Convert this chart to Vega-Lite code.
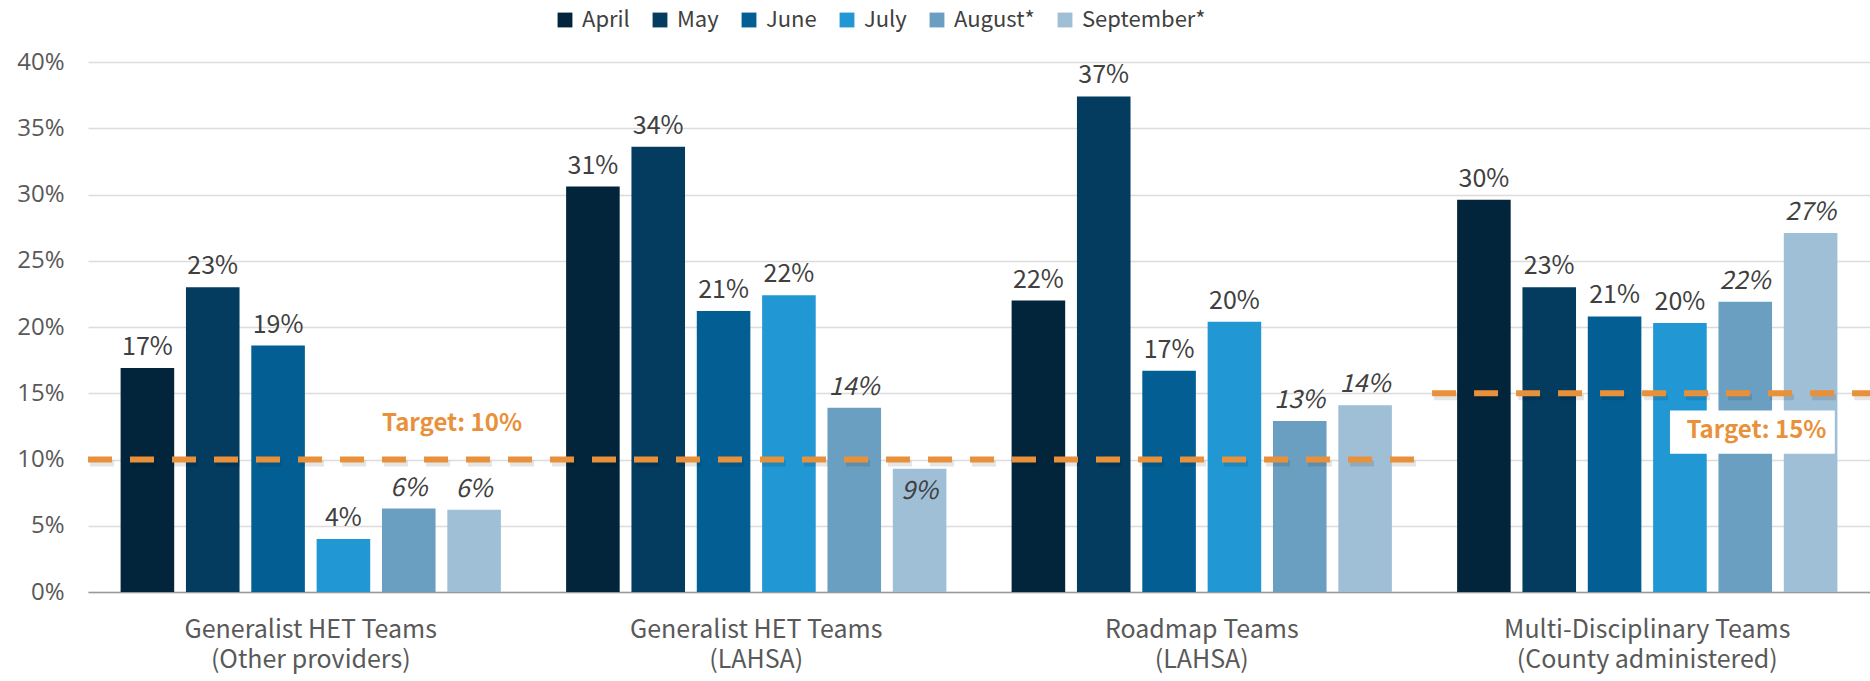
{
  "$schema": "https://vega.github.io/schema/vega-lite/v6.json",
  "width": 1782,
  "height": 530,
  "autosize": {"type": "none"},
  "padding": {"left": 88, "top": 62, "right": 0, "bottom": 89},
  "background": "white",
  "config": {"view": {"stroke": null}},
  "datasets": {
    "bars": [
      {"group": "Generalist HET Teams|(Other providers)", "month": "April", "value": 0.169},
      {"group": "Generalist HET Teams|(Other providers)", "month": "May", "value": 0.230},
      {"group": "Generalist HET Teams|(Other providers)", "month": "June", "value": 0.186},
      {"group": "Generalist HET Teams|(Other providers)", "month": "July", "value": 0.040},
      {"group": "Generalist HET Teams|(Other providers)", "month": "August*", "value": 0.063},
      {"group": "Generalist HET Teams|(Other providers)", "month": "September*", "value": 0.062},
      {"group": "Generalist HET Teams|(LAHSA)", "month": "April", "value": 0.306},
      {"group": "Generalist HET Teams|(LAHSA)", "month": "May", "value": 0.336},
      {"group": "Generalist HET Teams|(LAHSA)", "month": "June", "value": 0.212},
      {"group": "Generalist HET Teams|(LAHSA)", "month": "July", "value": 0.224},
      {"group": "Generalist HET Teams|(LAHSA)", "month": "August*", "value": 0.139},
      {"group": "Generalist HET Teams|(LAHSA)", "month": "September*", "value": 0.093},
      {"group": "Roadmap Teams|(LAHSA)", "month": "April", "value": 0.220},
      {"group": "Roadmap Teams|(LAHSA)", "month": "May", "value": 0.374},
      {"group": "Roadmap Teams|(LAHSA)", "month": "June", "value": 0.167},
      {"group": "Roadmap Teams|(LAHSA)", "month": "July", "value": 0.204},
      {"group": "Roadmap Teams|(LAHSA)", "month": "August*", "value": 0.129},
      {"group": "Roadmap Teams|(LAHSA)", "month": "September*", "value": 0.141},
      {"group": "Multi-Disciplinary Teams|(County administered)", "month": "April", "value": 0.296},
      {"group": "Multi-Disciplinary Teams|(County administered)", "month": "May", "value": 0.230},
      {"group": "Multi-Disciplinary Teams|(County administered)", "month": "June", "value": 0.208},
      {"group": "Multi-Disciplinary Teams|(County administered)", "month": "July", "value": 0.203},
      {"group": "Multi-Disciplinary Teams|(County administered)", "month": "August*", "value": 0.219},
      {"group": "Multi-Disciplinary Teams|(County administered)", "month": "September*", "value": 0.271}
    ],
    "targets": [
      {"xs": 0, "xe": 2.983, "t": 0.10},
      {"xs": 3.017, "xe": 4, "t": 0.15}
    ],
    "targetLabels": [
      {"xs": 0.817, "t": 0.127, "label": "Target: 10%"},
      {"xs": 3.745, "t": 0.1215, "label": "Target: 15%"}
    ],
    "boxes": [
      {"xs": 3.551, "xe": 3.921, "t": 0.1369, "t2": 0.1043}
    ]
  },
  "layer": [
    {
      "data": {"name": "bars"},
      "encoding": {
        "x": {
          "field": "group", "type": "nominal", "sort": null,
          "scale": {"paddingInner": 0.12, "paddingOuter": 0.06},
          "axis": {
            "title": null, "labelAngle": 0, "ticks": false, "labelLimit": 600,
            "labelExpr": "split(datum.label, '|')",
            "labelFont": "Noto Sans CJK SC",
            "labelFontSize": 25, "labelLineHeight": 30, "labelColor": "#595959",
            "labelPadding": 25, "domain": true, "domainColor": "#9a9a9a", "domainWidth": 1.5
          }
        },
        "xOffset": {
          "field": "month", "type": "nominal", "sort": null,
          "scale": {"paddingInner": 0.18, "paddingOuter": 0.09}
        },
        "y": {
          "field": "value", "type": "quantitative",
          "scale": {"domain": [0, 0.4], "nice": false},
          "axis": {
            "title": null, "format": ".0%", "values": [0, 0.05, 0.1, 0.15, 0.2, 0.25, 0.3, 0.35, 0.4],
            "domain": false, "ticks": false, "grid": true, "gridColor": "#dcdcdc", "gridWidth": 1.5,
            "labelFont": "Open Sans", "labelFontSize": 24, "labelColor": "#595959", "labelPadding": 24
          }
        }
      },
      "layer": [
        {
          "mark": {"type": "bar"},
          "encoding": {
            "color": {
              "field": "month", "type": "nominal", "sort": null,
              "scale": {
                "domain": ["April", "May", "June", "July", "August*", "September*"],
                "range": ["#02253b", "#033c5f", "#035f93", "#2197d4", "#6a9fc1", "#9ebfd6"]
              },
              "legend": {
                "title": null, "orient": "none", "direction": "horizontal",
                "legendX": 466, "legendY": -53, "padding": 0,
                "symbolType": "square", "symbolSize": 220, "symbolStrokeWidth": 0,
                "labelFont": "Noto Sans CJK SC",
                "labelFontSize": 22, "labelColor": "#404040", "labelOffset": 6,
                "columnPadding": 19
              }
            }
          }
        },
        {
          "transform": [{"filter": "indexof(['August*','September*'], datum.month) < 0"}],
          "mark": {"type": "text", "baseline": "alphabetic", "dy": -13, "font": "Noto Sans CJK SC", "fontSize": 25, "color": "#404040"},
          "encoding": {"text": {"field": "value", "type": "quantitative", "format": ".0%"}}
        },
        {
          "transform": [{"filter": "indexof(['August*','September*'], datum.month) >= 0 && !(datum.month == 'September*' && datum.group == 'Generalist HET Teams|(LAHSA)')"}],
          "mark": {"type": "text", "baseline": "alphabetic", "dy": -13, "font": "Noto Sans CJK SC", "fontStyle": "italic", "fontSize": 25, "color": "#404040"},
          "encoding": {"text": {"field": "value", "type": "quantitative", "format": ".0%"}}
        },
        {
          "transform": [{"filter": "datum.month == 'September*' && datum.group == 'Generalist HET Teams|(LAHSA)'"}],
          "mark": {"type": "text", "baseline": "alphabetic", "dy": 30, "font": "Noto Sans CJK SC", "fontStyle": "italic", "fontSize": 25, "color": "#404040"},
          "encoding": {"text": {"field": "value", "type": "quantitative", "format": ".0%"}}
        }
      ]
    },
    {
      "layer": [
        {
          "data": {"name": "targets"},
          "mark": {"type": "rule", "strokeWidth": 6, "color": "#000000", "opacity": 0.1, "strokeDash": [24, 18], "yOffset": 4, "xOffset": 2},
          "encoding": {
            "x": {"field": "xs", "type": "quantitative", "scale": {"domain": [0, 4], "nice": false, "zero": false}, "axis": null},
            "x2": {"field": "xe"},
            "y": {"field": "t", "type": "quantitative", "scale": {"domain": [0, 0.4], "nice": false}}
          }
        },
        {
          "data": {"name": "boxes"},
          "mark": {"type": "rect", "color": "white"},
          "encoding": {
            "x": {"field": "xs", "type": "quantitative", "scale": {"domain": [0, 4], "nice": false, "zero": false}, "axis": null},
            "x2": {"field": "xe"},
            "y": {"field": "t", "type": "quantitative", "scale": {"domain": [0, 0.4], "nice": false}},
            "y2": {"field": "t2"}
          }
        },
        {
          "data": {"name": "targets"},
          "mark": {"type": "rule", "strokeWidth": 6, "color": "#E8913A", "strokeDash": [24, 18]},
          "encoding": {
            "x": {"field": "xs", "type": "quantitative", "scale": {"domain": [0, 4], "nice": false, "zero": false}, "axis": null},
            "x2": {"field": "xe"},
            "y": {"field": "t", "type": "quantitative", "scale": {"domain": [0, 0.4], "nice": false}}
          }
        },
        {
          "data": {"name": "targetLabels"},
          "mark": {"type": "text", "font": "Noto Sans CJK SC", "fontWeight": "bold", "fontSize": 24, "color": "#E8913A", "align": "center", "baseline": "middle"},
          "encoding": {
            "x": {"field": "xs", "type": "quantitative", "scale": {"domain": [0, 4], "nice": false, "zero": false}, "axis": null},
            "y": {"field": "t", "type": "quantitative", "scale": {"domain": [0, 0.4], "nice": false}},
            "text": {"field": "label"}
          }
        }
      ]
    }
  ],
  "resolve": {"scale": {"x": "independent"}, "axis": {"x": "independent"}}
}
